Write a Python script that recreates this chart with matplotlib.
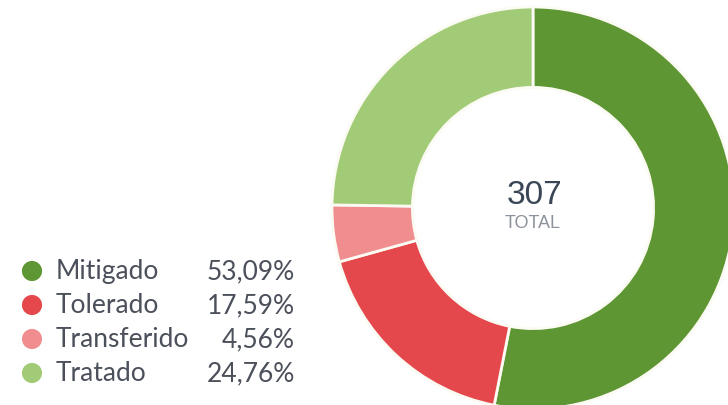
import matplotlib
matplotlib.use("Agg")
import matplotlib.pyplot as plt

categories = ["Mitigado", "Tolerado", "Transferido", "Tratado"]
counts = [163, 54, 14, 76]
percent_labels = ["53,09%", "17,59%", "4,56%", "24,76%"]
colors = ["#5f9634", "#e5484c", "#f08d8f", "#a2cb78"]
total = sum(counts)

W, H = 728, 406
fig = plt.figure(figsize=(W / 100, H / 100), dpi=100)
ax = fig.add_axes([0, 0, 1, 1])

# donut, clockwise from 12 o'clock
cx, cy, R = 533, H - 209, 201
ax.pie(counts, colors=colors, startangle=90, counterclock=False,
       center=(cx, cy), radius=R, frame=True,
       wedgeprops=dict(width=R * 0.4, edgecolor="#fbfbf3", linewidth=2))
ax.set_xlim(0, W)
ax.set_ylim(0, H)
ax.set_aspect("equal")
ax.axis("off")

center_font = "Liberation Sans"
ax.text(cx + 1, H - 196, str(total), ha="center", va="center",
        fontsize=24, color="#3a4556", family=center_font)
ax.text(cx, H - 224, "TOTAL", ha="center", va="center",
        fontsize=13, color="#8c929b", family=center_font)

# legend
font = "Lato"
row_y = [272, 306, 340, 374]
for name, pct, col, y in zip(categories, percent_labels, colors, row_y):
    ax.scatter([32], [H - y], s=210, color=col, edgecolors="none")
    ax.text(56, H - y, name, ha="left", va="center", fontsize=19,
            color="#4b505b", family=font)
    ax.text(295, H - y, pct, ha="right", va="center", fontsize=19,
            color="#4b505b", family=font)

fig.savefig("out.png", dpi=100, facecolor="white")
